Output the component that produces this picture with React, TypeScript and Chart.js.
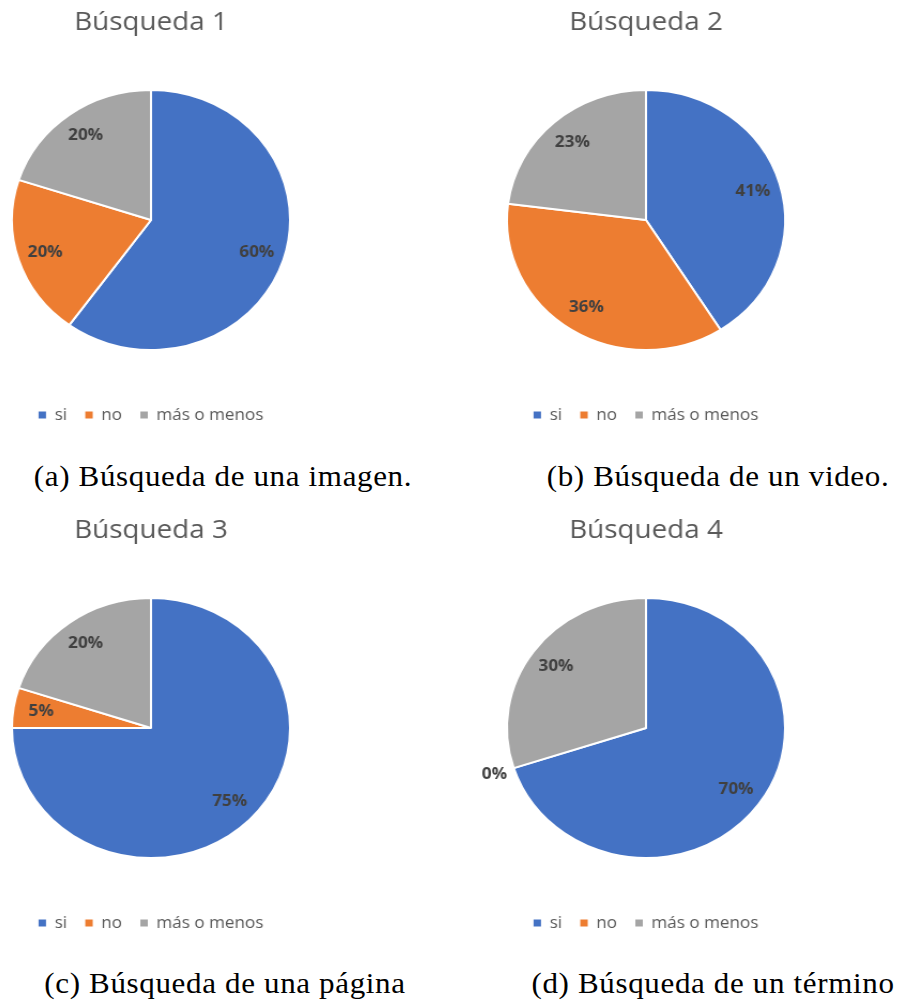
import React, { useEffect, useRef } from "react";
import { Chart, registerables } from "chart.js";

Chart.register(...registerables);

const categories = ["si", "no", "más o menos"];
const sliceColors = ["#4472C4", "#ED7D31", "#A5A5A5"];
const titles = ["Búsqueda 1", "Búsqueda 2", "Búsqueda 3", "Búsqueda 4"];
const captions = [
  "(a) Búsqueda de una imagen.",
  "(b) Búsqueda de un video.",
  "(c) Búsqueda de una página",
  "(d) Búsqueda de un término",
];
const busqueda1 = [60, 20, 20];
const busqueda2 = [41, 36, 23];
const busqueda3 = [75, 5, 20];
const busqueda4 = [70, 0, 30];
const allSeries = [busqueda1, busqueda2, busqueda3, busqueda4];

const FONT = "'Open Sans', 'Noto Sans', sans-serif";

const pctLabelPlugin = {
  id: "pctLabels",
  afterDatasetsDraw(chart: any) {
    const ctx = chart.ctx;
    const meta = chart.getDatasetMeta(0);
    const data = chart.data.datasets[0].data as number[];
    const total = data.reduce((a, b) => a + b, 0);
    ctx.save();
    ctx.font = `bold 16px ${FONT}`;
    ctx.fillStyle = "#404040";
    ctx.textAlign = "center";
    ctx.textBaseline = "middle";
    meta.data.forEach((arc: any, i: number) => {
      const p = arc.getProps(["x", "y", "startAngle", "endAngle", "outerRadius"], true);
      const mid = (p.startAngle + p.endAngle) / 2;
      const v = data[i];
      const dist = v === 0 ? p.outerRadius + 19 : p.outerRadius * 0.8;
      ctx.fillText(
        `${Math.round((v / total) * 100)}%`,
        p.x + Math.cos(mid) * dist,
        p.y + Math.sin(mid) * dist
      );
    });
    ctx.restore();
  },
};

const CW = 340;
const CH = 433;

function PieChart({ title, values, left, top }: { title: string; values: number[]; left: number; top: number }) {
  const ref = useRef<HTMLCanvasElement>(null);
  useEffect(() => {
    const chart = new Chart(ref.current!, {
      type: "pie",
      data: {
        labels: categories,
        datasets: [
          {
            data: values,
            backgroundColor: sliceColors,
            borderColor: "#ffffff",
            borderWidth: 2,
          },
        ],
      },
      options: {
        responsive: false,
        animation: false,
        devicePixelRatio: 1,
        layout: { padding: { left: 39, right: 39, top: 0, bottom: 0 } },
        plugins: {
          title: {
            display: true,
            text: title,
            color: "#595959",
            font: { family: FONT, size: 26, weight: "normal" },
            padding: { top: 7.4, bottom: 11.4 },
          },
          legend: {
            position: "bottom",
            labels: {
              color: "#595959",
              font: { family: FONT, size: 16 },
              boxWidth: 7,
              boxHeight: 7,
              padding: 17,
              generateLabels: (chart: any) =>
                Chart.overrides.pie.plugins.legend.labels
                  .generateLabels(chart)
                  .map((l: any) => ({ ...l, lineWidth: 0, strokeStyle: "rgba(0,0,0,0)" })),
            },
          },
          tooltip: { enabled: false },
        },
      },
      plugins: [pctLabelPlugin],
    });
    return () => chart.destroy();
  }, [title, values]);
  return (
    <div
      style={{
        position: "absolute",
        left,
        top,
        width: CW,
        height: CH,
        transform: "scaleX(1.07)",
        transformOrigin: "center",
      }}
    >
      <canvas ref={ref} width={CW} height={CH} style={{ display: "block" }} />
    </div>
  );
}

const panelLeft = [151 - CW / 2, 646 - CW / 2, 151 - CW / 2, 646 - CW / 2];
const panelTop = [0, 0, 508, 508];
const captionCenter = [223, 718, 225, 713];
const captionTop = [461, 461, 968, 968];

export default function App() {
  return (
    <div
      style={{
        position: "absolute",
        left: 0,
        top: 0,
        width: 899,
        height: 1003,
        overflow: "hidden",
        background: "#ffffff",
      }}
    >
      {allSeries.map((vals, i) => (
        <PieChart key={i} title={titles[i]} values={vals} left={panelLeft[i]} top={panelTop[i]} />
      ))}
      {captions.map((c, i) => (
        <div
          key={"c" + i}
          style={{
            position: "absolute",
            left: captionCenter[i] - 250,
            top: captionTop[i],
            width: 500,
            textAlign: "center",
            fontFamily: "'Liberation Serif', serif",
            fontSize: 29,
            letterSpacing: "0.6px",
            lineHeight: "30px",
            color: "#000",
            whiteSpace: "nowrap",
            transform: "scaleX(1.07)",
            transformOrigin: "center",
          }}
        >
          {c}
        </div>
      ))}
    </div>
  );
}
